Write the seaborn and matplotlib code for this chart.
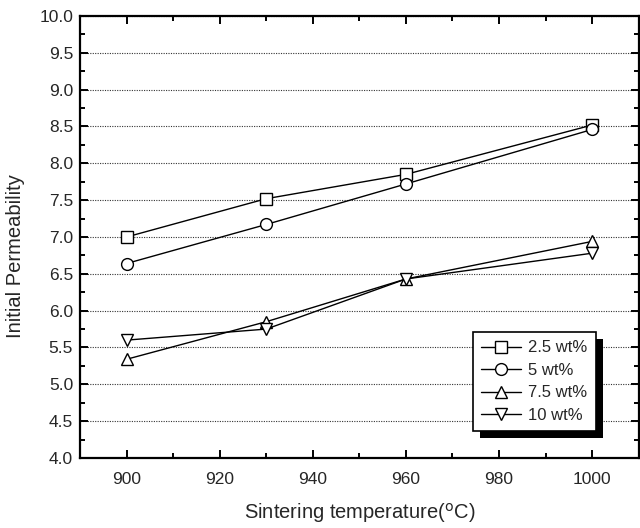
import pandas as pd
import seaborn as sns
import matplotlib.pyplot as plt
from matplotlib.patches import Rectangle
from matplotlib.transforms import IdentityTransform
from matplotlib.ticker import MultipleLocator

# Values
temperature = [900, 930, 960, 1000]
perm_2_5 = [7.00, 7.52, 7.85, 8.52]
perm_5 = [6.64, 7.17, 7.72, 8.46]
perm_7_5 = [5.34, 5.85, 6.43, 6.94]
perm_10 = [5.60, 5.75, 6.43, 6.78]
series_labels = ['2.5 wt%', '5 wt%', '7.5 wt%', '10 wt%']
series_markers = ['s', 'o', '^', 'v']

sns.set_style('ticks')
plt.rcParams['font.family'] = ['Liberation Sans', 'DejaVu Sans']

fig = plt.figure(figsize=(6.4, 5.28), dpi=100)
ax = fig.add_axes([0.125, 0.1326, 0.873, 0.8371])

for vals, lab, mk in zip([perm_2_5, perm_5, perm_7_5, perm_10], series_labels, series_markers):
    df = pd.DataFrame({'T': temperature, 'mu': vals})
    sns.lineplot(data=df, x='T', y='mu', ax=ax, color='black', linewidth=1.0,
                 marker=mk, markersize=8.5, markerfacecolor='white',
                 markeredgecolor='black', markeredgewidth=1.0, label=lab)

ax.set_xlim(890, 1010)
ax.set_ylim(4.0, 10.0)
ax.xaxis.set_major_locator(MultipleLocator(20))
ax.xaxis.set_minor_locator(MultipleLocator(10))
ax.yaxis.set_major_locator(MultipleLocator(0.5))
ax.yaxis.set_minor_locator(MultipleLocator(0.25))
ax.yaxis.set_major_formatter(plt.FormatStrFormatter('%.1f'))

ax.grid(axis='y', which='major', linestyle=(0, (1, 1.2)), color='#333333', linewidth=0.8)
ax.set_axisbelow(True)

for sp in ax.spines.values():
    sp.set_linewidth(1.6)
    sp.set_color('black')
    sp.set_visible(True)

ax.tick_params(which='both', direction='in', top=True, right=True, width=1.4, color='black')
ax.tick_params(which='major', length=6)
ax.tick_params(which='minor', length=3.5)
ax.tick_params(axis='x', which='major', labelsize=12.5, pad=10)
ax.tick_params(axis='y', which='major', labelsize=12.5, pad=5)
ax.tick_params(axis='both', which='minor', labelsize=0)

ax.set_xlabel('Sintering temperature($^{\\rm o}$C)', fontsize=14.5)
ax.set_ylabel('Initial Permeability', fontsize=14.5)
ax.xaxis.set_label_coords(0.5, -0.097)
ax.yaxis.set_label_coords(-0.098, 0.457)

leg = ax.legend(loc='upper left', bbox_to_anchor=(0.739, 0.371), bbox_transform=fig.transFigure,
                borderaxespad=0, fontsize=12, frameon=True, fancybox=False, edgecolor='black',
                framealpha=1, handlelength=2.4, handletextpad=0.4, labelspacing=0.45, borderpad=0.5)
leg.get_frame().set_linewidth(1.2)

# solid black drop shadow behind the legend box
fig.canvas.draw()
bb = leg.get_window_extent()
shadow = Rectangle((bb.x0 + 7, bb.y0 - 7), bb.width, bb.height, transform=IdentityTransform(),
                   facecolor='black', edgecolor='none', zorder=leg.get_zorder() - 0.1, clip_on=False)
ax.add_artist(shadow)

fig.savefig('out.png', dpi=100)
